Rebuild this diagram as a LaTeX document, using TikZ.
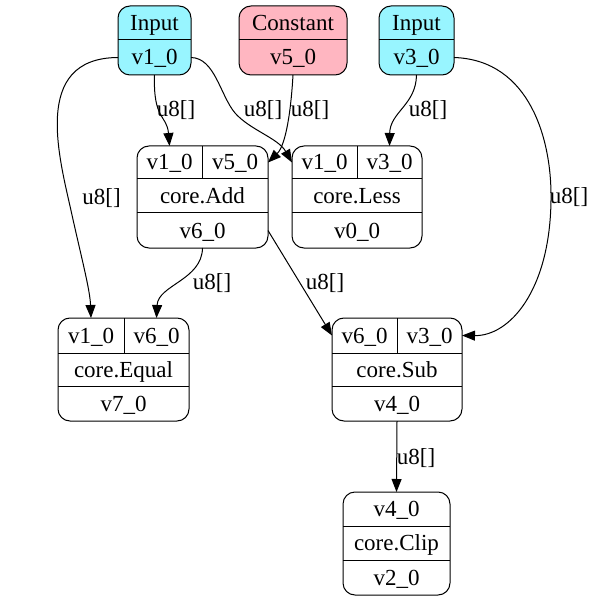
\documentclass[tikz,border=0pt]{standalone}
\usepackage{fontspec}
\setmainfont{Liberation Serif}
\usetikzlibrary{arrows.meta}
\definecolor{incol}{HTML}{98F5FF}
\definecolor{constcol}{HTML}{FFB6C1}
\begin{document}
\begin{tikzpicture}[x=1pt,y=-1pt,
  every node/.style={font=\fontsize{23}{27}\selectfont},
  rec/.style={draw, line width=1pt, rounded corners=12pt, inner sep=0pt, outer sep=0pt},
  cell/.style={inner sep=0pt, outer sep=0pt, text height=18pt, text depth=3pt},
  divider/.style={line width=1pt},
  edge/.style={line width=1pt, -{Triangle[length=13pt,width=10pt]}},
  lbl/.style={inner sep=1pt}]
\useasboundingbox (0,0) rectangle (594,601);

% Input v1_0
\node[rec, fill=incol, minimum width=73pt, minimum height=69pt] (in1) at (154.5,40.5) {};
\node[cell, minimum width=73pt, minimum height=34pt] (in1t) at (154.5,23) {Input};
\node[cell, minimum width=73pt, minimum height=35pt] (in1b) at (154.5,57.5) {v1\_0};
\draw[divider] (118,40) -- (191,40);

% Constant v5_0
\node[rec, fill=constcol, minimum width=108pt, minimum height=69pt] (cst) at (293,40.5) {};
\node[cell, minimum width=108pt, minimum height=34pt] (cstt) at (293,23) {Constant};
\node[cell, minimum width=108pt, minimum height=35pt] (cstb) at (293,57.5) {v5\_0};
\draw[divider] (239,40) -- (347,40);

% Input v3_0
\node[rec, fill=incol, minimum width=75pt, minimum height=69pt] (in3) at (416.5,40.5) {};
\node[cell, minimum width=75pt, minimum height=34pt] (in3t) at (416.5,23) {Input};
\node[cell, minimum width=75pt, minimum height=35pt] (in3b) at (416.5,57.5) {v3\_0};
\draw[divider] (379,40) -- (454,40);

% core.Add
\node[rec, minimum width=131pt, minimum height=102pt] (add) at (202.5,197) {};
\node[cell, minimum width=65pt, minimum height=33pt] (addA) at (169.5,162.5) {v1\_0};
\node[cell, minimum width=66pt, minimum height=33pt] (addB) at (235,162.5) {v5\_0};
\node[cell, minimum width=131pt, minimum height=34pt] (addOp) at (202.5,196) {core.Add};
\node[cell, minimum width=131pt, minimum height=35pt] (addOut) at (202.5,230.5) {v6\_0};
\draw[divider] (137,179) -- (268,179);
\draw[divider] (137,213) -- (268,213);
\draw[divider] (202,146) -- (202,179);

% core.Less
\node[rec, minimum width=130pt, minimum height=102pt] (less) at (357,197) {};
\node[cell, minimum width=65pt, minimum height=33pt] (lessA) at (324.5,162.5) {v1\_0};
\node[cell, minimum width=65pt, minimum height=33pt] (lessB) at (389.5,162.5) {v3\_0};
\node[cell, minimum width=130pt, minimum height=34pt] (lessOp) at (357,196) {core.Less};
\node[cell, minimum width=130pt, minimum height=35pt] (lessOut) at (357,230.5) {v0\_0};
\draw[divider] (292,179) -- (422,179);
\draw[divider] (292,213) -- (422,213);
\draw[divider] (357,146) -- (357,179);

% core.Equal
\node[rec, minimum width=131pt, minimum height=103pt] (eq) at (123.5,369.5) {};
\node[cell, minimum width=66pt, minimum height=35pt] (eqA) at (91,335.5) {v1\_0};
\node[cell, minimum width=65pt, minimum height=35pt] (eqB) at (156.5,335.5) {v6\_0};
\node[cell, minimum width=131pt, minimum height=33pt] (eqOp) at (123.5,369.5) {core.Equal};
\node[cell, minimum width=131pt, minimum height=35pt] (eqOut) at (123.5,403.5) {v7\_0};
\draw[divider] (58,353) -- (189,353);
\draw[divider] (58,386) -- (189,386);
\draw[divider] (124,318) -- (124,353);

% core.Sub
\node[rec, minimum width=130pt, minimum height=103pt] (sub) at (397,369.5) {};
\node[cell, minimum width=65pt, minimum height=35pt] (subA) at (364.5,335.5) {v6\_0};
\node[cell, minimum width=65pt, minimum height=35pt] (subB) at (429.5,335.5) {v3\_0};
\node[cell, minimum width=130pt, minimum height=33pt] (subOp) at (397,369.5) {core.Sub};
\node[cell, minimum width=130pt, minimum height=35pt] (subOut) at (397,403.5) {v4\_0};
\draw[divider] (332,353) -- (462,353);
\draw[divider] (332,386) -- (462,386);
\draw[divider] (397,318) -- (397,353);

% core.Clip
\node[rec, minimum width=107pt, minimum height=103pt] (clip) at (396.5,543.5) {};
\node[cell, minimum width=107pt, minimum height=34pt] (clipIn) at (396.5,509) {v4\_0};
\node[cell, minimum width=107pt, minimum height=34pt] (clipOp) at (396.5,543) {core.Clip};
\node[cell, minimum width=107pt, minimum height=35pt] (clipOut) at (396.5,577.5) {v2\_0};
\draw[divider] (343,526) -- (450,526);
\draw[divider] (343,560) -- (450,560);

% edges
\draw[edge] (in1b.south) .. controls (153,120) and (167,115) .. (addA.north);
\draw[edge] (in1b.east) .. controls (215,58) and (220,95) .. (235,113) .. controls (250,130) and (278,138) .. (lessA.west);
\draw[edge] (in1b.west) .. controls (30,58) and (60,160) .. (72,215) .. controls (82,260) and (90,290) .. (eqA.north);
\draw[edge] (cstb.south) .. controls (291,110) and (286,145) .. (addB.east);
\draw[edge] (in3b.south) .. controls (416,105) and (390,112) .. (lessB.north);
\draw[edge] (in3b.east) .. controls (530,60) and (552,140) .. (551,200) .. controls (550,290) and (510,336) .. (subB.east);
\draw[edge] (addOut.south) .. controls (202,280) and (158,285) .. (eqB.north);
\draw[edge] (addOut.east) -- (subA.west);
\draw[edge] (subOut.south) -- (clipIn.north);

% labels
\node[lbl] (l1) at (176,110) {u8[]};
\node[lbl] (l2) at (263,110) {u8[]};
\node[lbl] (l3) at (101.5,198) {u8[]};
\node[lbl] (l4) at (310,110) {u8[]};
\node[lbl] (l5) at (428,110) {u8[]};
\node[lbl] (l6) at (569,197) {u8[]};
\node[lbl] (l7) at (212,283) {u8[]};
\node[lbl] (l8) at (325,283) {u8[]};
\node[lbl] (l9) at (416,458) {u8[]};
\end{tikzpicture}
\end{document}
